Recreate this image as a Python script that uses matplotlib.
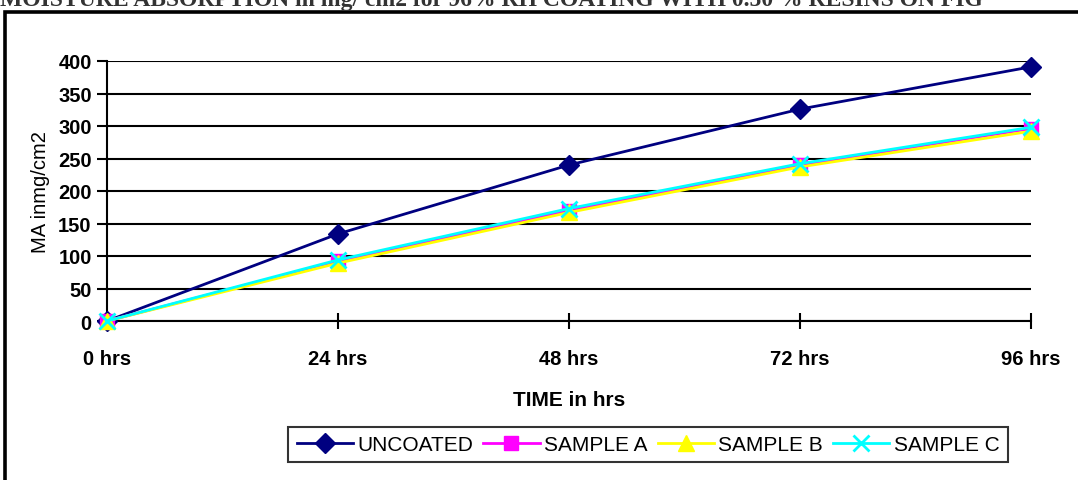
import matplotlib
matplotlib.use('Agg')
import matplotlib.pyplot as plt
from matplotlib.patches import Rectangle

plt.rcParams['font.family'] = ['Liberation Sans', 'DejaVu Sans']

# data
hours = [0, 24, 48, 72, 96]
tick_labels = ['0 hrs', '24 hrs', '48 hrs', '72 hrs', '96 hrs']
uncoated = [0, 134, 240, 326, 391]
sample_a = [0, 92, 170, 240, 296]
sample_b = [0, 89, 167, 237, 292]
sample_c = [0, 94, 173, 242, 298]

fig = plt.figure(figsize=(10.78, 4.81), dpi=100)

# caption line of the page, cut off at the top as in the scan
fig.text(0.0, 1 - 6/481, 'MOISTURE ABSORPTION in mg/ cm2 for 96% RH COATING WITH 0.50 % RESINS ON FIG',
         family='Liberation Serif', fontweight='bold', fontsize=17, va='baseline', ha='left',
         color='#333333')
fig.add_artist(Rectangle((5/1078, -0.1), 1.2, 1 - 12.5/481 + 0.1, transform=fig.transFigure,
                         fill=False, ec='black', lw=2.6))

ax = fig.add_axes([107/1078, 1 - 322/481, (1031 - 107)/1078, (322 - 62)/481])

ax.plot(hours, uncoated, color='#000080', lw=2, marker='D', ms=10, label='UNCOATED', clip_on=False, zorder=3)
ax.plot(hours, sample_a, color='#FF00FF', lw=2, marker='s', ms=10, label='SAMPLE A', clip_on=False, zorder=3)
ax.plot(hours, sample_b, color='#FFFF00', lw=2, marker='^', ms=11, label='SAMPLE B', clip_on=False, zorder=3)
ax.plot(hours, sample_c, color='#00FFFF', lw=2, marker='x', ms=11, mew=2, label='SAMPLE C', clip_on=False, zorder=3)

ax.set_xlim(0, 96)
ax.set_ylim(0, 400)
ax.set_xticks(hours)
ax.set_xticklabels(tick_labels, fontsize=14.5, fontweight='bold')
ax.set_yticks(range(0, 401, 50))
for lbl in ax.get_yticklabels():
    lbl.set_fontsize(14.5)
    lbl.set_fontweight('bold')
ax.tick_params(axis='x', direction='inout', length=12, width=1.5, pad=14)
ax.tick_params(axis='y', direction='out', length=7, width=1.5, pad=4)
ax.yaxis.grid(True, color='black', lw=1.5)
ax.set_axisbelow(True)
for s in ['top', 'right']:
    ax.spines[s].set_visible(False)
for s in ['left', 'bottom']:
    ax.spines[s].set_linewidth(1.5)

ax.set_ylabel('MA inmg/cm2', fontsize=14.5, labelpad=6)
ax.set_xlabel('TIME in hrs', fontsize=15, fontweight='bold', labelpad=16)

leg = fig.legend(loc='center', bbox_to_anchor=(648/1078, 1 - 445.5/481), ncol=4, fontsize=15,
                 frameon=True, fancybox=False, edgecolor='black', handlelength=2.7,
                 handletextpad=0.2, columnspacing=0.5, borderpad=0.4)
leg.get_frame().set_linewidth(1.5)

fig.savefig('out.png', dpi=100)
